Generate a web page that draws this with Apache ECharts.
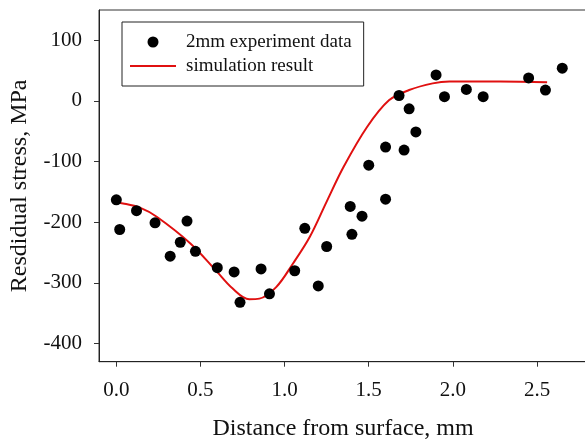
<!DOCTYPE html>
<html>
<head>
<meta charset="utf-8">
<script src="https://cdn.jsdelivr.net/npm/echarts@6/dist/echarts.min.js"></script>
<style>
html,body{margin:0;padding:0;background:#fff;}
#chart{width:585px;height:443px;}
</style>
</head>
<body>
<div id="chart"></div>
<script>
// Experimental data: distance (mm), residual stress (MPa)
const expX = [0.00, 0.02, 0.12, 0.23, 0.32, 0.38, 0.42, 0.47, 0.60, 0.70, 0.735, 0.86, 0.91, 1.06, 1.12, 1.20, 1.25, 1.39, 1.40, 1.46, 1.50, 1.60, 1.60, 1.68, 1.71, 1.74, 1.78, 1.90, 1.95, 2.08, 2.18, 2.45, 2.55, 2.65];
const expY = [-163, -212, -181, -201, -256, -233, -198, -248, -275, -282, -332, -277, -318, -280, -210, -305, -240, -174, -220, -190, -106, -162, -76, 9, -81, -13, -51, 43, 7, 19, 7, 38, 18, 54];
// Simulation curve
const simX = [0.00, 0.04, 0.14, 0.24, 0.44, 0.59, 0.69, 0.79, 0.85, 0.95, 1.05, 1.15, 1.25, 1.35, 1.49, 1.62, 1.74, 1.88, 1.98, 2.28, 2.56];
const simY = [-168, -169, -176, -191, -235, -279, -309, -327, -326, -307, -268, -224, -166, -109, -43, 1, 18, 29, 32, 32, 31];
// Tick labels
const xTicks = [0, 0.5, 1.0, 1.5, 2.0, 2.5];
const yTicks = [-400, -300, -200, -100, 0, 100];

const expData = expX.map((x, i) => [x, expY[i]]);
const simData = simX.map((x, i) => [x, simY[i]]);

const FONT = '"Liberation Serif", "Times New Roman", serif';
const chart = echarts.init(document.getElementById('chart'), null, {renderer: 'canvas'});
chart.setOption({
  animation: false,
  backgroundColor: '#fff',
  grid: {
    left: 99, top: 10, right: -2, bottom: 81.3,
    containLabel: false, outerBoundsMode: 'none',
    show: true, borderColor: '#333', borderWidth: 1, backgroundColor: 'transparent'
  },
  legend: {
    left: 122, top: 22,
    orient: 'vertical',
    borderColor: '#222', borderWidth: 1,
    padding: [10, 12, 10, 8],
    itemGap: 4,
    itemWidth: 46, itemHeight: 11,
    itemStyle: {borderWidth: 0},
    textStyle: {fontFamily: FONT, fontSize: 19, color: '#111', lineHeight: 20, padding: [0, 0, 0, 5]},
    data: [
      {name: '2mm experiment data', icon: 'circle'},
      {name: 'simulation result', icon: 'path://M0,0 H46 V2 H0 Z', itemStyle: {color: '#e01010'}}
    ]
  },
  xAxis: {
    type: 'value', min: -0.103, max: 2.797,
    name: 'Distance from surface, mm',
    nameLocation: 'middle', nameGap: 55,
    nameTextStyle: {fontFamily: FONT, fontSize: 24, color: '#111'},
    axisLine: {show: true, onZero: false, lineStyle: {color: '#222', width: 1}},
    axisTick: {show: true, inside: false, length: 5, customValues: xTicks, lineStyle: {color: '#333'}},
    axisLabel: {
      customValues: xTicks, margin: 18,
      fontFamily: FONT, fontSize: 21, color: '#111',
      formatter: v => v.toFixed(1)
    },
    splitLine: {show: false}
  },
  yAxis: {
    type: 'value', min: -430, max: 150,
    name: 'Resdidual stress, MPa',
    nameLocation: 'middle', nameGap: 67, nameRotate: 90,
    nameTextStyle: {fontFamily: FONT, fontSize: 24, color: '#111'},
    axisLine: {show: true, onZero: false, lineStyle: {color: '#222', width: 1}},
    axisTick: {show: true, inside: false, length: 5, customValues: yTicks, lineStyle: {color: '#333'}},
    axisLabel: {
      customValues: yTicks, margin: 17,
      fontFamily: FONT, fontSize: 21, color: '#111'
    },
    splitLine: {show: false}
  },
  series: [
    {
      name: 'simulation result', type: 'line', data: simData,
      smooth: 0.35, symbol: 'none', z: 2,
      lineStyle: {color: '#e01010', width: 2}, itemStyle: {color: '#e01010'}
    },
    {
      name: '2mm experiment data', type: 'scatter', data: expData,
      symbol: 'circle', symbolSize: 11, z: 3,
      itemStyle: {color: '#000', opacity: 1}
    }
  ]
});
</script>
</body>
</html>
